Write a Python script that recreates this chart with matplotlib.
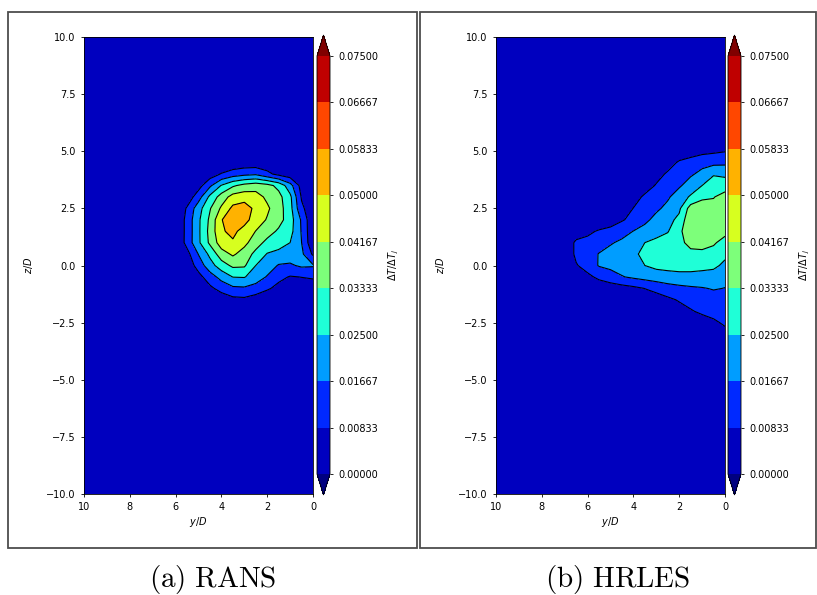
import numpy as np
import matplotlib.pyplot as plt
from matplotlib.patches import Rectangle

# contour levels of dT/dT_j
levels = np.linspace(0, 0.075, 10)

# RANS field on a 0.5 D grid (rows: z/D, cols: y/D)
rans_y = np.arange(0, 6.01, 0.5)
rans_z = np.arange(-2.0, 4.51, 0.5)
rans_T = np.array([
    [0,      0,      0,      0,      0,      0,      0,      0,      0,      0,      0,      0,      0],
    [0,      0,      0,      0,      0.002,  0.004,  0.0065, 0.006,  0.003,  0.001,  0,      0,      0],
    [0.003,  0.004,  0.004,  0.006,  0.0095, 0.0135, 0.0155, 0.015,  0.0115, 0.0065, 0.001,  0,      0],
    [0.0095, 0.0085, 0.0078, 0.0105, 0.016,  0.021,  0.0255, 0.0252, 0.0195, 0.013,  0.0055, 0,      0],
    [0.0175, 0.018,  0.0155, 0.016,  0.021,  0.025,  0.0345, 0.035,  0.0295, 0.0215, 0.012,  0.0025, 0],
    [0.007,  0.0185, 0.021,  0.023,  0.0245, 0.031,  0.038,  0.043,  0.038,  0.027,  0.017,  0.0055, 0],
    [0.0015, 0.0167, 0.025,  0.028,  0.031,  0.037,  0.044,  0.049,  0.046,  0.035,  0.0235, 0.0112, 0],
    [0.001,  0.016,  0.028,  0.032,  0.037,  0.0415, 0.047,  0.052,  0.049,  0.036,  0.0235, 0.011,  0],
    [0.001,  0.0155, 0.029,  0.0365, 0.041,  0.046,  0.053,  0.056,  0.0495, 0.035,  0.0235, 0.011,  0],
    [0.003,  0.010,  0.028,  0.037,  0.043,  0.048,  0.054,  0.052,  0.043,  0.0327, 0.0215, 0.0093, 0],
    [0.002,  0.0075, 0.027,  0.036,  0.040,  0.045,  0.0465, 0.045,  0.037,  0.027,  0.013,  0.003,  0],
    [0.001,  0.005,  0.020,  0.031,  0.036,  0.038,  0.036,  0.032,  0.0255, 0.015,  0.005,  0.001,  0],
    [0,      0,      0.003,  0.006,  0.0105, 0.0155, 0.0145, 0.0125, 0.009,  0.004,  0.001,  0,      0],
    [0,      0,      0,      0,      0.003,  0.003,  0.003,  0.002,  0,      0,      0,      0,      0],
])

# HRLES field, same layout
hrles_y = np.arange(0, 7.01, 0.5)
hrles_z = np.arange(-3.5, 5.51, 0.5)
hrles_T = np.array([
    [0.002,  0.001,  0,      0,      0,      0,      0,      0,      0,      0,      0,      0,      0,      0,      0],
    [0.006,  0.0045, 0.003,  0.002,  0.001,  0,      0,      0,      0,      0,      0,      0,      0,      0,      0],
    [0.0095, 0.007,  0.0055, 0.004,  0.0025, 0.001,  0,      0,      0,      0,      0,      0,      0,      0,      0],
    [0.012,  0.011,  0.0095, 0.0078, 0.0055, 0.0035, 0.002,  0.001,  0,      0,      0,      0,      0,      0,      0],
    [0.014,  0.0135, 0.012,  0.0105, 0.009,  0.0068, 0.005,  0.0035, 0.002,  0.001,  0,      0,      0,      0,      0],
    [0.0165, 0.0172, 0.0162, 0.0155, 0.0145, 0.013,  0.0105, 0.0085, 0.0065, 0.005,  0.0035, 0.002,  0,      0,      0],
    [0.019,  0.021,  0.022,  0.0225, 0.0225, 0.022,  0.021,  0.0195, 0.018,  0.0162, 0.0135, 0.0105, 0.006,  0.002,  0],
    [0.023,  0.027,  0.0275, 0.028,  0.028,  0.0275, 0.027,  0.025,  0.022,  0.020,  0.0185, 0.0172, 0.0125, 0.0075, 0],
    [0.027,  0.030,  0.031,  0.031,  0.030,  0.029,  0.0285, 0.027,  0.0235, 0.0205, 0.019,  0.017,  0.0135, 0.0105, 0],
    [0.030,  0.0345, 0.037,  0.036,  0.031,  0.0285, 0.027,  0.025,  0.021,  0.018,  0.016,  0.0135, 0.0115, 0.0105, 0],
    [0.036,  0.039,  0.041,  0.0405, 0.031,  0.0245, 0.022,  0.020,  0.0168, 0.014,  0.0115, 0.0095, 0.006,  0.002,  0],
    [0.036,  0.038,  0.040,  0.0405, 0.027,  0.0225, 0.0195, 0.0145, 0.011,  0.0075, 0.003,  0,      0,      0,      0],
    [0.037,  0.0355, 0.037,  0.037,  0.0235, 0.019,  0.015,  0.0115, 0.0085, 0.004,  0.001,  0,      0,      0,      0],
    [0.036,  0.033,  0.032,  0.026,  0.021,  0.0155, 0.013,  0.0098, 0.005,  0.001,  0,      0,      0,      0,      0],
    [0.030,  0.031,  0.025,  0.0205, 0.0155, 0.0125, 0.009,  0.0045, 0.0015, 0,      0,      0,      0,      0,      0],
    [0.023,  0.024,  0.019,  0.0155, 0.0125, 0.0095, 0.0055, 0.002,  0,      0,      0,      0,      0,      0,      0],
    [0.015,  0.0145, 0.014,  0.012,  0.0095, 0.005,  0.002,  0,      0,      0,      0,      0,      0,      0,      0],
    [0.008,  0.007,  0.006,  0.004,  0.003,  0.001,  0,      0,      0,      0,      0,      0,      0,      0,      0],
    [0,      0,      0,      0,      0,      0,      0,      0,      0,      0,      0,      0,      0,      0,      0],
])

captions = ["(a) RANS", "(b) HRLES"]

plt.rcParams.update({
    "font.size": 7,
    "axes.linewidth": 0.6,
    "xtick.major.width": 0.6,
    "ytick.major.width": 0.6,
    "xtick.major.size": 2.5,
    "ytick.major.size": 2.5,
})

W, H = 817, 595
fig = plt.figure(figsize=(W / 100, H / 100), dpi=100)


def box(l, t, r, b):
    return [l / W, 1 - b / H, (r - l) / W, (b - t) / H]


def pad_field(y, z, T):
    # field is zero outside the read window, out to the domain edge
    y2 = np.concatenate([y, [10.0]])
    z2 = np.concatenate([[-10.0], z, [10.0]])
    T2 = np.zeros((len(z2), len(y2)))
    T2[1:-1, :-1] = T
    return y2, z2, np.maximum(T2, 1e-6)


panels = [
    (rans_y, rans_z, rans_T, 84, 313, 317, 8, 417),
    (hrles_y, hrles_z, hrles_T, 496, 725, 728, 420, 816),
]

for i, (y, z, T, axl, axr, cbl, frl, frr) in enumerate(panels):
    yy, zz, TT = pad_field(y, z, T)
    ax = fig.add_axes(box(axl, 37, axr, 494))
    cax = fig.add_axes(box(cbl, 35, cbl + 13, 495))

    cs = ax.contourf(yy, zz, TT, levels=levels, cmap="jet", extend="both")
    ax.contour(yy, zz, TT, levels=levels[1:], colors="k", linewidths=0.8)
    ax.set_xlim(10, 0)
    ax.set_ylim(-10, 10)
    ax.set_xticks([10, 8, 6, 4, 2, 0])
    ax.set_yticks(np.arange(-10, 10.1, 2.5))
    ax.set_xlabel(r"$y/D$", labelpad=2)
    ax.set_ylabel(r"$z/D$", labelpad=8)

    cb = fig.colorbar(cs, cax=cax, ticks=levels, format="%.5f")
    cb.outline.set_linewidth(0.6)
    cb.set_label(r"$\Delta T/\Delta T_j$", labelpad=6)

    fig.add_artist(Rectangle((frl / W, 1 - 548 / H), (frr - frl) / W, (548 - 12) / H,
                             transform=fig.transFigure, fill=False,
                             edgecolor="#4d4d4d", linewidth=1.3))
    fig.text((frl + frr) / 2 / W, 1 - 580 / H,
             r"$\mathrm{" + captions[i].replace(" ", r"\ ") + "}$",
             ha="center", va="center", fontsize=21, math_fontfamily="cm")

fig.savefig("out.png", dpi=100)
